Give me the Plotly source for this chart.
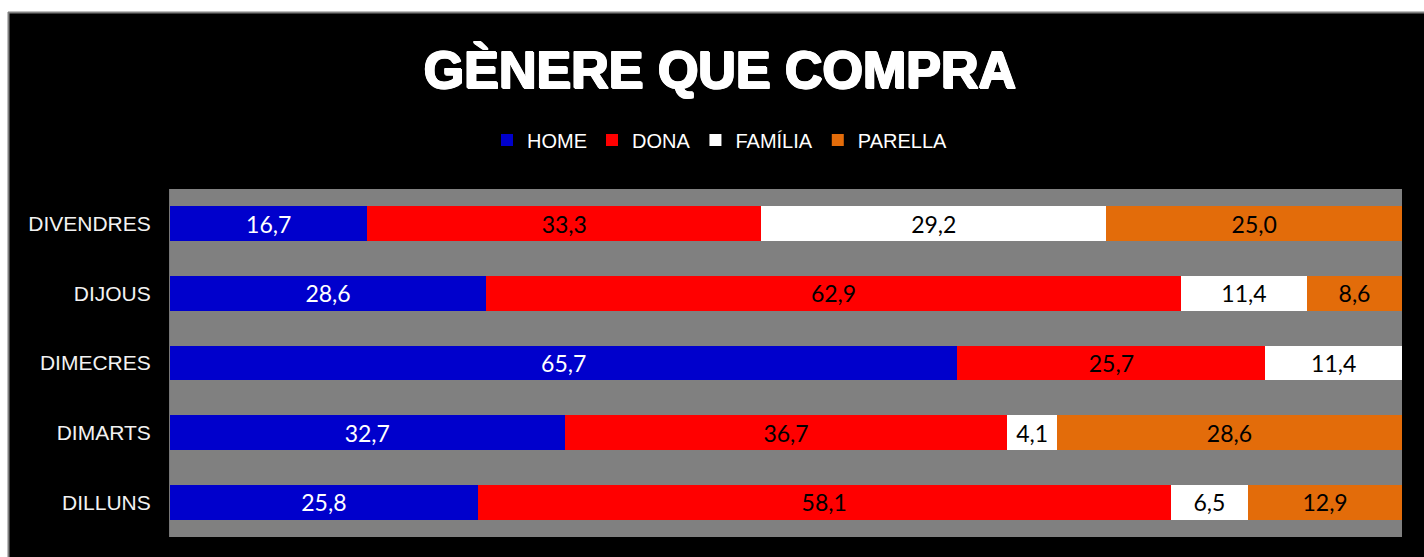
import plotly.graph_objects as go

days = ["DILLUNS", "DIMARTS", "DIMECRES", "DIJOUS", "DIVENDRES"]
home = [25.8, 32.7, 65.7, 28.6, 16.7]
dona = [58.1, 36.7, 25.7, 62.9, 33.3]
familia = [6.5, 4.1, 11.4, 11.4, 29.2]
parella = [12.9, 28.6, None, 8.6, 25.0]

series = [
    ("HOME", home, "#0000CC", "white"),
    ("DONA", dona, "#FF0000", "black"),
    ("FAMÍLIA", familia, "#FFFFFF", "black"),
    ("PARELLA", parella, "#E36C0A", "black"),
]

W, H = 1424, 557
L, R, T, B = 170, 22, 189, 20
pw, ph = W - L - R, H - T - B


def px(x):
    return (x - L) / pw


def py(y):
    return (H - B - y) / ph


def fmt(v):
    return "" if v is None else f"{v:.1f}".replace(".", ",")


fig = go.Figure()
for name, vals, color, tcolor in series:
    fig.add_trace(go.Bar(
        name=name, y=days, x=vals, orientation="h",
        marker=dict(color=color, line=dict(width=0)),
        text=[fmt(v) for v in vals], textposition="inside",
        insidetextanchor="middle", textangle=0, constraintext="none",
        textfont=dict(family="Lato", size=23, color=tcolor),
        hoverinfo="skip",
    ))

fig.update_layout(
    width=W, height=H,
    margin=dict(l=L, r=R, t=T, b=B, pad=0),
    barmode="stack", barnorm="percent", bargap=0.5,
    paper_bgcolor="black", plot_bgcolor="#808080",
    title=dict(
        text="GÈNERE QUE COMPRA", x=720 / W, xanchor="center",
        y=1 - 70 / H, yanchor="middle",
        font=dict(family="Liberation Sans", size=52, color="white", weight="bold",
                  shadow="1px 0 0 white, -1px 0 0 white, 0 1px 0 white, 0 -1px 0 white, 1px 1px 0 white, -1px -1px 0 white"),
    ),
    legend=dict(
        orientation="h", x=px(487), xanchor="left", y=py(140), yanchor="middle",
        font=dict(family="Liberation Sans", size=20, color="white"),
        bgcolor="rgba(0,0,0,0)", traceorder="normal", itemclick=False,
    ),
    xaxis=dict(range=[0, 100], showticklabels=False, showgrid=False,
               zeroline=False, showline=False, fixedrange=True),
    yaxis=dict(showgrid=False, zeroline=False, showline=True, linecolor="#777777",
               linewidth=1, ticks="", ticklabelstandoff=14, fixedrange=True,
               tickfont=dict(family="Liberation Sans", size=21, color="#F2F2F2")),
    shapes=[
        dict(type="rect", xref="paper", yref="paper", layer="below",
             x0=px(-20), x1=px(W + 20), y0=py(12), y1=py(-20),
             fillcolor="white", line=dict(width=0)),
        dict(type="rect", xref="paper", yref="paper", layer="below",
             x0=px(-20), x1=px(8), y0=py(H + 20), y1=py(-20),
             fillcolor="white", line=dict(width=0)),
        dict(type="line", xref="paper", yref="paper", layer="below",
             x0=px(8), x1=px(W + 20), y0=py(12.5), y1=py(12.5),
             line=dict(color="#808080", width=2)),
        dict(type="line", xref="paper", yref="paper", layer="below",
             x0=px(8.5), x1=px(8.5), y0=py(12), y1=py(H + 20),
             line=dict(color="#808080", width=2)),
    ],
)

fig.write_html(
    "out.html",
    config={"displayModeBar": False},
    post_script="document.body.style.margin='0';document.body.style.overflow='hidden';",
)
